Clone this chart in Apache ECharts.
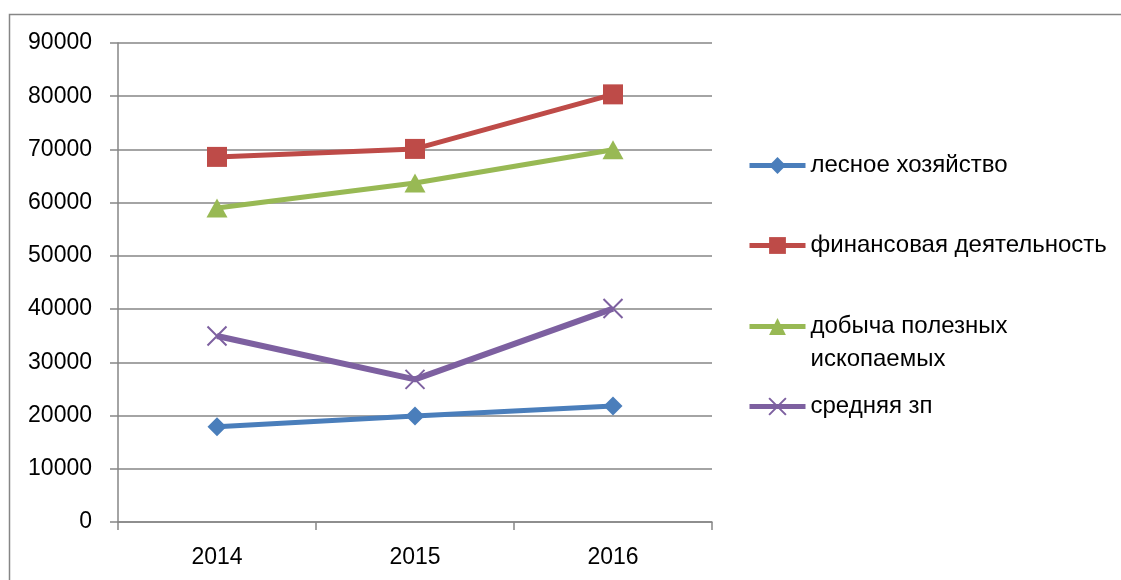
<!DOCTYPE html>
<html><head><meta charset="utf-8">
<script src="https://cdn.jsdelivr.net/npm/echarts@6/dist/echarts.min.js"></script>
<style>html,body{margin:0;padding:0;background:#fff}#c{width:1121px;height:580px}</style>
</head><body><div id="c"></div>
<script>
const categories = ['2014', '2015', '2016'];
const seriesNames = ['лесное хозяйство', 'финансовая деятельность', 'добыча полезных ископаемых', 'средняя зп'];
const forestry = [17900, 19900, 21800];
const finance = [68600, 70100, 80350];
const mining = [59000, 63700, 69950];
const avgSalary = [34950, 26800, 40100];
const yTicks = [0, 10000, 20000, 30000, 40000, 50000, 60000, 70000, 80000, 90000];

const colors = ['#4A7EBB', '#BE4B48', '#98B954', '#7D60A0'];
const FONT = 'Liberation Sans';
const crossPath = 'path://M0,0L10,10M10,0L0,10';

function legendFor(i, top) {
  return {
    data: [seriesNames[i]],
    left: 742, top: top,
    orient: 'vertical',
    itemWidth: 56, itemHeight: 21,
    lineStyle: { width: 5 },
    textStyle: { fontFamily: FONT, fontSize: 24, color: '#000', lineHeight: 33 },
    formatter: function (n) { return n === seriesNames[2] ? '\nдобыча полезных\nископаемых' : n; }
  };
}

const chart = echarts.init(document.getElementById('c'), null, { renderer: 'canvas' });
chart.setOption({
  animation: false,
  backgroundColor: '#fff',
  graphic: [{
    type: 'rect', left: 7, top: 12, shape: { width: 1300, height: 700 },
    style: { fill: 'none', stroke: '#868686', lineWidth: 1.5 }, silent: true, z: -1
  }],
  grid: { left: 118, right: 409, top: 43, bottom: 58 },
  xAxis: {
    type: 'category', data: categories, boundaryGap: true,
    axisLine: { lineStyle: { color: '#868686', width: 1.5 } },
    axisTick: { show: true, length: 8, lineStyle: { color: '#868686', width: 1.5 } },
    axisLabel: { fontFamily: FONT, fontSize: 23, color: '#000', margin: 24 }
  },
  yAxis: {
    type: 'value', min: yTicks[0], max: yTicks[yTicks.length - 1], interval: yTicks[1] - yTicks[0],
    axisLine: { show: true, lineStyle: { color: '#868686', width: 1.5 } },
    axisTick: { show: true, length: 8, lineStyle: { color: '#868686', width: 1.5 } },
    splitLine: { lineStyle: { color: '#868686', width: 1.5 } },
    axisLabel: { fontFamily: FONT, fontSize: 23, color: '#000', margin: 26,
      formatter: function (v) { return String(v); } }
  },
  legend: [
    legendFor(0, 144),
    legendFor(1, 224),
    legendFor(2, 272),
    legendFor(3, 385)
  ],
  series: [
    { name: seriesNames[0], type: 'line', data: forestry, symbol: 'diamond', symbolSize: 19,
      lineStyle: { color: colors[0], width: 5 }, itemStyle: { color: colors[0] } },
    { name: seriesNames[1], type: 'line', data: finance, symbol: 'rect', symbolSize: 20,
      lineStyle: { color: colors[1], width: 5 }, itemStyle: { color: colors[1] } },
    { name: seriesNames[2], type: 'line', data: mining, symbol: 'triangle', symbolSize: [21, 19],
      lineStyle: { color: colors[2], width: 5 }, itemStyle: { color: colors[2] } },
    { name: seriesNames[3], type: 'line', data: avgSalary, symbol: crossPath, symbolSize: 19,
      lineStyle: { color: colors[3], width: 6 }, itemStyle: { color: colors[3], borderColor: colors[3], borderWidth: 2 } }
  ]
});
</script></body></html>
